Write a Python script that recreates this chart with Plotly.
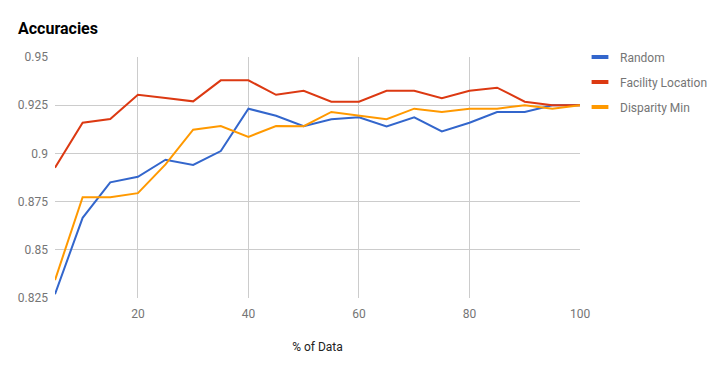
import plotly.graph_objects as go

pct_data = [5, 10, 15, 20, 25, 30, 35, 40, 45, 50, 55, 60, 65, 70, 75, 80, 85, 90, 95, 100]
random_acc = [0.827, 0.8666, 0.885, 0.8879, 0.8967, 0.894, 0.9012, 0.9232, 0.9195, 0.9141,
              0.9177, 0.9187, 0.914, 0.9187, 0.9114, 0.9159, 0.9215, 0.9215, 0.925, 0.925]
facility_acc = [0.8926, 0.9159, 0.9178, 0.9304, 0.9287, 0.927, 0.9379, 0.9379, 0.9304, 0.9325,
                0.9268, 0.9268, 0.9325, 0.9325, 0.9286, 0.9325, 0.9341, 0.9268, 0.925, 0.925]
disparity_acc = [0.8343, 0.8773, 0.8773, 0.8794, 0.8943, 0.9123, 0.9142, 0.9086, 0.9142, 0.9141,
                 0.9215, 0.9195, 0.9177, 0.9232, 0.9215, 0.9232, 0.9232, 0.925, 0.9232, 0.925]

series_names = ["Random", "Facility Location", "Disparity Min"]
series_colors = ["#3366CC", "#DC3912", "#FF9900"]
series_values = [random_acc, facility_acc, disparity_acc]

x_ticks = [20, 40, 60, 80, 100]
y_ticks = [0.825, 0.85, 0.875, 0.9, 0.925, 0.95]
y_ticktext = ["0.825", "0.85", "0.875", "0.9", "0.925", "0.95"]

fig = go.Figure()
for name, color, vals in zip(series_names, series_colors, series_values):
    fig.add_trace(go.Scatter(x=pct_data, y=vals, mode="lines", name=name,
                             line=dict(color=color, width=2), showlegend=False,
                             legendgroup=name))
for name, color in zip(series_names, series_colors):
    fig.add_trace(go.Scatter(x=[None], y=[None], mode="markers", name=name,
                             marker=dict(symbol="line-ew-open", size=12, color=color,
                                         line=dict(color=color, width=4)),
                             legendgroup=name, showlegend=True))

fig.update_layout(
    width=728, height=371,
    margin=dict(l=55, r=148, t=57, b=73),
    paper_bgcolor="white", plot_bgcolor="white",
    font=dict(family="Roboto, Arial, sans-serif", size=12, color="#757575"),
    title=dict(text="<b>Accuracies</b>", x=18/728, xref="container", xanchor="left",
               y=1-28/371, yref="container", yanchor="middle",
               font=dict(size=16, color="#000000", family="Roboto, Arial, sans-serif")),
    legend=dict(x=1.0, xanchor="left", y=1-25/241, yanchor="middle", yref="paper",
                font=dict(size=12, color="#757575"), tracegroupgap=6,
                bgcolor="rgba(0,0,0,0)"),
    hovermode=False,
)
fig.update_xaxes(range=[5, 100], tickvals=x_ticks, showgrid=True, gridcolor="#CCCCCC",
                 gridwidth=1, zeroline=False, showline=False, ticks="",
                 ticklabelstandoff=7,
                 tickfont=dict(size=12, color="#757575"),
                 title=dict(text="% of Data", font=dict(size=12, color="#222222"), standoff=22))
fig.update_yaxes(range=[0.825, 0.95], tickvals=y_ticks, ticktext=y_ticktext, showgrid=True,
                 gridcolor="#CCCCCC", gridwidth=1, zeroline=False, showline=False, ticks="",
                 ticklabelstandoff=6,
                 tickfont=dict(size=12, color="#757575"))

fig.write_html("out.html")
